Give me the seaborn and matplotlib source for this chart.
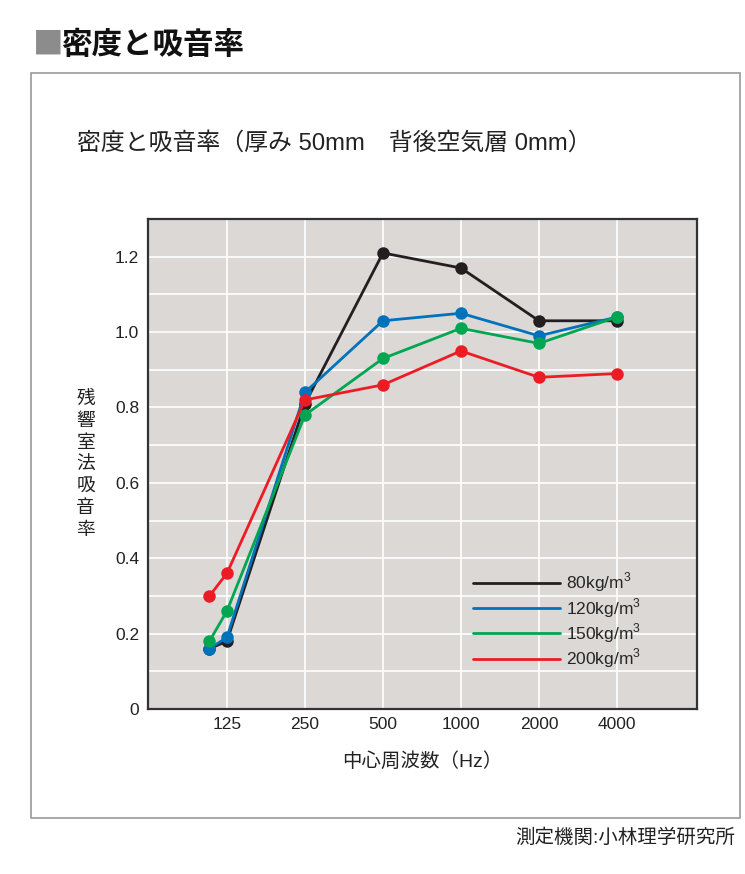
import pandas as pd
import matplotlib.pyplot as plt
import seaborn as sns
from matplotlib.lines import Line2D
from matplotlib.patches import Rectangle
from matplotlib.ticker import FixedLocator, MultipleLocator, NullLocator

# Data
freqs = [107, 125, 250, 500, 1000, 2000, 4000]
tick_freqs = [125, 250, 500, 1000, 2000, 4000]
densities = ['80kg/m$^3$', '120kg/m$^3$', '150kg/m$^3$', '200kg/m$^3$']
alpha_80 = [0.16, 0.18, 0.81, 1.21, 1.17, 1.03, 1.03]
alpha_120 = [0.16, 0.19, 0.84, 1.03, 1.05, 0.99, 1.04]
alpha_150 = [0.18, 0.26, 0.78, 0.93, 1.01, 0.97, 1.04]
alpha_200 = [0.30, 0.36, 0.82, 0.86, 0.95, 0.88, 0.89]
colors = ['#231f20', '#0072bc', '#00a651', '#ed1c24']

rows = []
for name, vals in zip(densities, [alpha_80, alpha_120, alpha_150, alpha_200]):
    for f, v in zip(freqs, vals):
        rows.append({'freq': f, 'alpha': v, 'density': name})
df = pd.DataFrame(rows)

sns.set_style('darkgrid', {'axes.facecolor': '#dcd8d6', 'grid.color': 'white'})
plt.rcParams['font.family'] = ['Liberation Sans', 'Noto Sans CJK JP', 'DejaVu Sans']
plt.rcParams['mathtext.fontset'] = 'custom'
plt.rcParams['mathtext.rm'] = 'Liberation Sans'

fig = plt.figure(figsize=(7.45, 8.74), dpi=100)
ax = fig.add_axes([0.198, 0.1888, 0.7376, 0.5606])

sns.lineplot(data=df, x='freq', y='alpha', hue='density', palette=colors,
             marker='o', markersize=9, markeredgewidth=0, linewidth=2,
             legend=False, ax=ax)

ax.set_xscale('log')
ax.set_xlim(61.7, 8150)
ax.set_ylim(0, 1.3)
ax.xaxis.set_major_locator(FixedLocator(tick_freqs))
ax.xaxis.set_minor_locator(NullLocator())
ax.set_xticklabels([str(t) for t in tick_freqs])
ax.yaxis.set_minor_locator(MultipleLocator(0.1))
ax.set_yticks([0, 0.2, 0.4, 0.6, 0.8, 1.0, 1.2])
ax.set_yticklabels(['0', '0.2', '0.4', '0.6', '0.8', '1.0', '1.2'])
ax.grid(which='both', color='white', linewidth=1.2)
ax.tick_params(which='both', length=0, labelsize=12.5, colors='#222222', pad=6)
for s in ax.spines.values():
    s.set_visible(True)
    s.set_color('#333333')
    s.set_linewidth(1.6)

ax.set_xlabel('中心周波数（Hz）', fontsize=14, color='#222222', labelpad=14)
ax.set_ylabel('\n'.join('残響室法吸音率'), fontsize=13.5, color='#222222',
              rotation=0, va='center', labelpad=21, linespacing=1.06,
              family='Noto Sans CJK JP')

handles = [Line2D([0], [0], color=c, lw=2) for c in colors]
ax.legend(handles, densities, loc='upper left', bbox_to_anchor=(0.576, 0.30),
          frameon=False, fontsize=12.5, handlelength=5.0, handletextpad=0.35,
          labelspacing=0.1, borderpad=0)

# Page framing
fig.patches.append(Rectangle((31 / 745, 1 - 818 / 874), 709 / 745, 745 / 874,
                             transform=fig.transFigure, fill=False,
                             edgecolor='#999999', linewidth=1.2))
fig.text(33 / 745, 1 - 45 / 874, '■', fontsize=22, color='#8c8c8c', va='center', ha='left',
         family='Noto Sans CJK JP')
fig.text(61 / 745, 1 - 45 / 874, '密度と吸音率', fontsize=22, fontweight='bold',
         color='#111111', va='center', ha='left', family='Noto Sans CJK JP')
fig.text(77 / 745, 1 - 143 / 874, '密度と吸音率（厚み 50mm　背後空気層 0mm）',
         fontsize=17.2, color='#222222', va='center', ha='left')
fig.text(735 / 745, 1 - 838 / 874, '測定機関:小林理学研究所', fontsize=14,
         color='#222222', va='center', ha='right')

plt.savefig('out.png', dpi=100)
